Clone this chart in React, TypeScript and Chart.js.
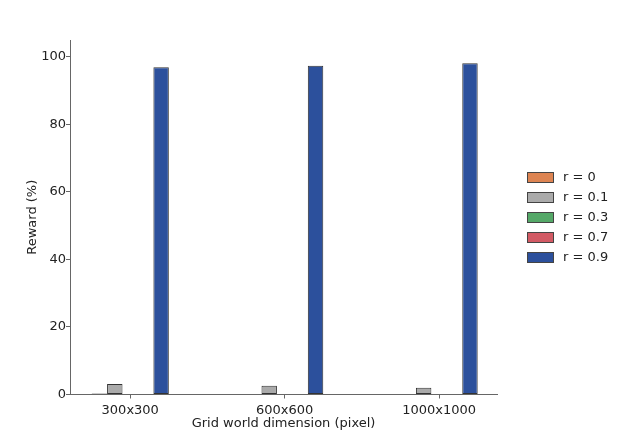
import React, { useEffect, useRef } from "react";
import { Chart, registerables } from "chart.js";

Chart.register(...registerables);

const categories = ["300x300", "600x600", "1000x1000"];
const seriesLabels = ["r = 0", "r = 0.1", "r = 0.3", "r = 0.7", "r = 0.9"];
const r0 = [0.3, 0, 0];
const r01 = [3.1, 2.6, 2.0];
const r03 = [0, 0, 0];
const r07 = [0, 0, 0];
const r09 = [96.9, 97.4, 98.1];
const yTicks = [0, 20, 40, 60, 80, 100];
const colors = ["#dd8452", "#aaaaaa", "#55a868", "#d25a64", "#2c509c"];

const FONT = "'DejaVu Sans', sans-serif";

const legendPlugin = {
  id: "customLegend",
  afterDraw(chart: any) {
    const ctx = chart.ctx;
    ctx.save();
    chart.data.datasets.forEach((ds: any, i: number) => {
      const cy = 177 + i * 20;
      ctx.fillStyle = ds.backgroundColor;
      ctx.fillRect(527, cy - 5, 27, 10);
      ctx.strokeStyle = "#444";
      ctx.lineWidth = 1;
      ctx.strokeRect(527.5, cy - 4.5, 26, 10);
      ctx.fillStyle = "#222";
      ctx.font = "13px " + FONT;
      ctx.textBaseline = "middle";
      ctx.textAlign = "left";
      ctx.fillText(ds.label, 563, cy + 1);
    });
    ctx.restore();
  },
};

export default function App() {
  const ref = useRef<HTMLCanvasElement>(null);
  useEffect(() => {
    document.body.style.margin = "0";
    const series = [r0, r01, r03, r07, r09];
    const chart = new Chart(ref.current!, {
      type: "bar",
      data: {
        datasets: series.map((vals, i) => ({
          label: seriesLabels[i],
          data: vals.map((v, j) => ({ x: j, y: v })),
          backgroundColor: colors[i],
          borderColor: "#333",
          borderWidth: 1,
          borderSkipped: false,
          categoryPercentage: 0.5,
          barPercentage: 1.0,
        })),
      },
      options: {
        animation: false,
        responsive: false,
        maintainAspectRatio: false,
        layout: { padding: { left: 21, right: 129, top: 40, bottom: 0 } },
        plugins: { legend: { display: false }, tooltip: { enabled: false } },
        scales: {
          x: {
            type: "linear",
            offset: false,
            min: -0.39,
            max: 2.375,
            afterBuildTicks: (s: any) => {
              s.ticks = categories.map((_, i) => ({ value: i }));
            },
            afterFit: (s: any) => {
              s.height = 40.5;
            },
            ticks: {
              callback: (v: any) => categories[v] ?? "",
              color: "#222",
              font: { family: FONT, size: 13 },
              padding: 4,
              maxRotation: 0,
            },
            grid: {
              display: true,
              offset: false,
              drawOnChartArea: false,
              drawTicks: true,
              tickLength: 4,
              color: "#666",
            },
            border: { display: true, color: "#666", width: 1 },
            title: {
              display: true,
              text: "Grid world dimension (pixel)",
              color: "#222",
              font: { family: FONT, size: 13 },
              padding: { top: 0, bottom: 4 },
            },
          },
          y: {
            type: "linear",
            min: 0,
            max: 105,
            afterBuildTicks: (s: any) => {
              s.ticks = yTicks.map((v) => ({ value: v }));
            },
            afterFit: (s: any) => {
              s.width = 49;
            },
            ticks: {
              color: "#222",
              font: { family: FONT, size: 13 },
              padding: 0,
            },
            grid: {
              display: true,
              drawOnChartArea: false,
              drawTicks: true,
              tickLength: 4,
              color: "#666",
            },
            border: { display: true, color: "#666", width: 1 },
            title: {
              display: true,
              text: "Reward (%)",
              color: "#222",
              font: { family: FONT, size: 13 },
              padding: 4,
            },
          },
        },
      },
      plugins: [legendPlugin],
    } as any);
    return () => chart.destroy();
  }, []);
  return <canvas ref={ref} width={626} height={435} style={{ display: "block" }} />;
}
